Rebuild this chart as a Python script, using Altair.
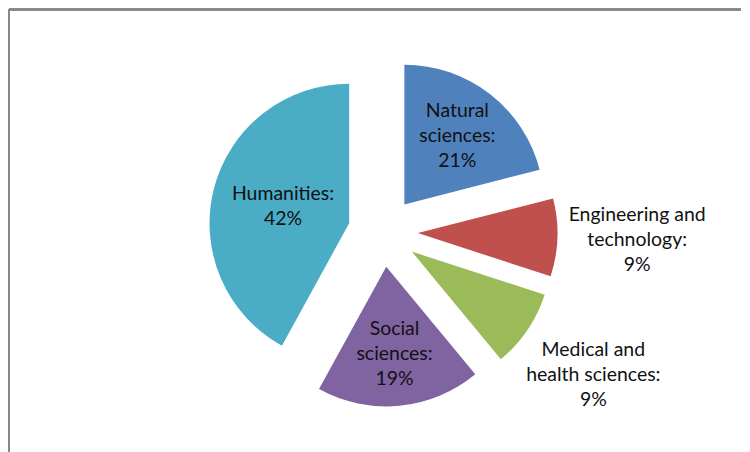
import altair as alt
import pandas as pd

categories = ["Natural sciences", "Engineering and technology",
              "Medical and health sciences", "Social sciences", "Humanities"]
shares = [21, 9, 9, 19, 42]
labels = ["Natural\nsciences:\n21%", "Engineering and\ntechnology:\n9%",
          "Medical and\nhealth sciences:\n9%", "Social\nsciences:\n19%",
          "Humanities:\n42%"]
colors = ["#4F81BD", "#C0504D", "#9BBB59", "#8064A2", "#4BACC6"]

df = pd.DataFrame({"category": categories, "share": shares,
                   "label": labels, "idx": list(range(len(categories)))})

W, H = 734, 430
CX, CY = 375, 223
R = 140
EXPLODE = 35
LH = 25

base = alt.Chart(df).transform_joinaggregate(
    total="sum(share)"
).transform_window(
    cum="sum(share)", sort=[alt.SortField("idx")], frame=[None, 0]
).transform_calculate(
    a0="2*PI*(datum.cum - datum.share)/datum.total",
    a1="2*PI*datum.cum/datum.total",
    nlines="length(split(datum.label, '\\n'))",
).transform_calculate(
    mid="(datum.a0 + datum.a1)/2",
    alpha="datum.a1 - datum.a0",
).transform_calculate(
    cx=f"{CX} + {EXPLODE}*sin(datum.mid)",
    cy=f"{CY} - {EXPLODE}*cos(datum.mid)",
    lr=f"datum.share < 10 ? 255 : {EXPLODE} + 4*{R}*sin(datum.alpha/2)/(3*datum.alpha)",
).transform_calculate(
    lx=f"{CX} + datum.lr*sin(datum.mid)",
    ly=f"{CY} - datum.lr*cos(datum.mid) - (datum.nlines - 1)*{LH}/2",
)

arcs = base.mark_arc(radius=R, stroke=None).encode(
    x=alt.X("cx:Q", scale=None),
    y=alt.Y("cy:Q", scale=None),
    theta=alt.Theta("a0:Q", scale=None),
    theta2=alt.Theta2("a1:Q"),
    color=alt.Color("category:N", scale=alt.Scale(domain=categories, range=colors), legend=None),
)

texts = base.mark_text(font="Lato", fontSize=19.5, lineBreak="\n", lineHeight=LH,
                       align="center", baseline="middle", color="#111111").encode(
    x=alt.X("lx:Q", scale=None),
    y=alt.Y("ly:Q", scale=None),
    text="label:N",
)

frame_top = alt.Chart(df).mark_rule(color="#888888", strokeWidth=2).encode(
    x=alt.value(0), x2=alt.value(W), y=alt.value(0))
frame_left = alt.Chart(df).mark_rule(color="#888888", strokeWidth=2).encode(
    x=alt.value(0), y=alt.value(0), y2=alt.value(H + 20))

chart = alt.layer(frame_top, frame_left, arcs, texts).properties(
    width=W, height=H, padding=0
).configure_view(stroke=None)

chart.save("out.html", embed_options={"renderer": "svg", "actions": False})
